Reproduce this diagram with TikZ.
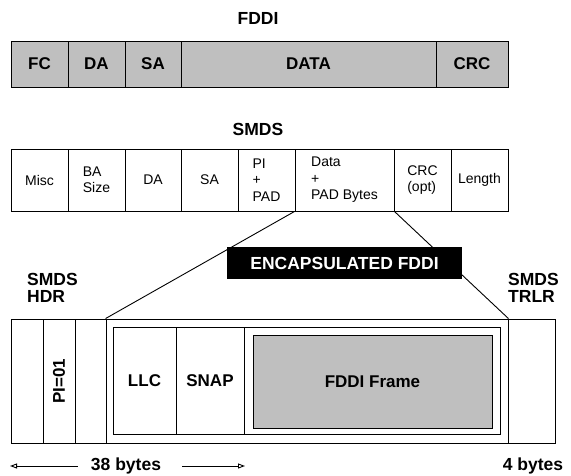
\documentclass[tikz,border=0pt]{standalone}
\usepackage{fontspec}
\setmainfont{Liberation Sans}
\usetikzlibrary{arrows.meta}
\tikzset{
	fld/.style={draw, line width=0.9pt, inner sep=0pt, align=left, font=\fontsize{14}{16.5}\selectfont},
	bfld/.style={fld, font=\fontsize{17}{19}\selectfont\bfseries},
	gfld/.style={bfld, fill=black!25},
	lbl/.style={inner sep=0pt, align=left, font=\fontsize{17.5}{17}\selectfont\bfseries},
	arr/.style={line width=0.9pt, -{Triangle[open, length=7pt, width=5pt]}}
}
% \cell[style]{name}{x1}{x2}{y1}{y2}{text}
\newcommand{\cell}[7][fld]{
	\node[#1, minimum width={(#4-#3)*1pt}, minimum height={(#6-#5)*1pt}](#2) at ({(#3+#4)/2}, {(#5+#6)/2}){#7}
}

\begin{document}
\begin{tikzpicture}[x=1pt, y=-1pt]
	\useasboundingbox (0, 0) rectangle (571, 476);
	\node[lbl](fddi) at (258, 18){FDDI};
	\cell[gfld]{fc}{11}{68}{41}{87}{FC};
	\cell[gfld]{fda}{68}{125}{41}{87}{DA};
	\cell[gfld]{fsa}{125}{181}{41}{87}{SA};
	\cell[gfld]{fdata}{181}{436}{41}{87}{DATA};
	\cell[gfld]{fcrc}{436}{508}{41}{87}{CRC};
	\node[lbl](smds) at (258, 129){SMDS};
	\cell{misc}{11}{68}{149}{211}{Misc};
	\cell{ba}{68}{125}{149}{211}{BA\\Size};
	\cell{sda}{125}{181}{149}{211}{DA};
	\cell{ssa}{181}{238}{149}{211}{SA};
	\cell{pi}{238}{295}{149}{211}{PI\\+\\PAD};
	\cell{sdata}{295}{394}{149}{211}{Data\\+\\PAD Bytes};
	\cell{scrc}{394}{451}{149}{211}{CRC\\(opt)};
	\cell{slen}{451}{508}{149}{211}{Length};
	\node[lbl, anchor=west](hdr) at (27, 288){SMDS\\HDR};
	\node[lbl, anchor=west](trlr) at (508, 288){SMDS\\TRLR};
	\cell{h1}{11}{43}{319}{443}{};
	\cell[bfld]{h2}{43}{75}{319}{443}{\rotatebox{90}{PI=01}};
	\cell{h3}{75}{106}{319}{443}{};
	\cell{encap}{106}{508}{319}{443}{};
	\cell{trl}{508}{555}{319}{443}{};
	\cell[bfld]{llc}{113}{176}{327}{434}{LLC};
	\cell[bfld]{snap}{176}{244}{327}{434}{SNAP};
	\cell{rest}{244}{500}{327}{434}{};
	\cell[gfld]{frame}{253}{492}{335}{428}{FDDI Frame};
	\draw[line width=0.9pt](sdata.south west)--(encap.north west);
	\draw[line width=0.9pt](sdata.south east)--(encap.north east);
	\node[lbl, fill=black, text=white, minimum width=235pt, minimum height=32pt](ttl) at (344.5, 263){ENCAPSULATED FDDI};
	\node[lbl](len) at (126, 466){38 bytes};
	\coordinate (lend) at (10, 466);
	\coordinate (rend) at (245, 466);
	\draw[arr]([xshift=-13pt]len.west)--(lend);
	\draw[arr]([xshift=21pt]len.east)--(rend);
	\node[lbl](tlen) at (533, 466){4 bytes};
\end{tikzpicture}
\end{document}
